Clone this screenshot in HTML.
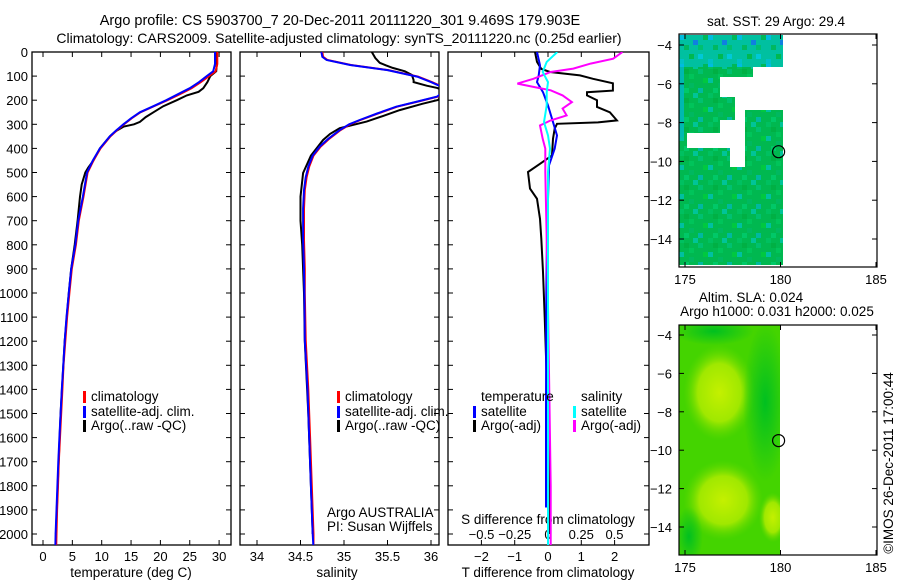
<!DOCTYPE html>
<html><head><meta charset="utf-8"><style>
html,body{margin:0;padding:0;background:#fff;}
svg{display:block;font-family:"Liberation Sans",Arial,sans-serif;}
text{fill:#000;}
</style></head><body>
<svg id="fig" width="900" height="580" viewBox="0 0 900 580" xmlns="http://www.w3.org/2000/svg">
<defs>
<clipPath id="c1"><rect x="32" y="52" width="199" height="493"/></clipPath>
<clipPath id="c2"><rect x="240" y="52" width="199" height="493"/></clipPath>
<clipPath id="c3"><rect x="448" y="52" width="201" height="493"/></clipPath>
<clipPath id="cm2"><rect x="679" y="325" width="101" height="230"/></clipPath>
<pattern id="sstTex" x="679" y="35" width="29" height="29" patternUnits="userSpaceOnUse">
<rect width="29" height="29" fill="#00b850"/>
<rect x="0" y="0" width="5" height="5" fill="#00c060"/><rect x="14" y="0" width="5" height="5" fill="#00c498"/>
<rect x="5" y="5" width="5" height="5" fill="#00b044"/><rect x="19" y="5" width="5" height="5" fill="#00c070"/>
<rect x="0" y="14" width="5" height="5" fill="#00c0a0"/><rect x="24" y="14" width="5" height="5" fill="#00c840"/>
<rect x="10" y="19" width="5" height="5" fill="#00b860"/><rect x="5" y="24" width="5" height="5" fill="#00c868"/>
<rect x="19" y="24" width="5" height="5" fill="#00b8a0"/><rect x="10" y="10" width="5" height="5" fill="#00c45a"/>
</pattern>
<pattern id="sstTop" x="679" y="35" width="29" height="29" patternUnits="userSpaceOnUse">
<rect width="29" height="29" fill="#00c0a0"/>
<rect x="0" y="0" width="5" height="5" fill="#00bce0"/><rect x="14" y="5" width="5" height="5" fill="#1080e0"/>
<rect x="5" y="10" width="5" height="5" fill="#00b860"/><rect x="19" y="19" width="5" height="5" fill="#00c8d8"/>
<rect x="24" y="0" width="5" height="5" fill="#00b858"/><rect x="0" y="24" width="5" height="5" fill="#00c0c8"/>
<rect x="10" y="19" width="5" height="5" fill="#00b850"/><rect x="19" y="10" width="5" height="5" fill="#00c070"/>
</pattern>
<radialGradient id="yg"><stop offset="0" stop-color="#c4f000"/><stop offset="0.6" stop-color="#a0e800"/><stop offset="1" stop-color="#60d800" stop-opacity="0"/></radialGradient>
<radialGradient id="dg"><stop offset="0" stop-color="#00c020"/><stop offset="1" stop-color="#00c020" stop-opacity="0"/></radialGradient>
</defs>
<g id="root"></g>
</svg>
<script>
// ---- data arrays (depth in m) ----
var depthTick = [0,100,200,300,400,500,600,700,800,900,1000,1100,1200,1300,1400,1500,1600,1700,1800,1900,2000];
var tempTick = [0,5,10,15,20,25,30];
var salTick = [34,34.5,35,35.5,36];
var salTickLabels = ["34","34.5","35","35.5","36"];
var tdTick = [-2,-1,0,1,2];
var sdTick = [-0.5,-0.25,0,0.25,0.5];
var sdTickLabels = ["\u22120.5","\u22120.25","0","0.25","0.5"];
var tdTickLabels = ["\u22122","\u22121","0","1","2"];

var depthT = [0,50,80,100,125,150,175,200,225,250,275,300,325,350,400,450,500,600,700,800,900,1000,1100,1200,1300,1400,1500,1600,1700,1800,1900,2000,2060];
var tempSat = [29.3,29.3,29.0,27.9,26.6,25.0,23.0,21.0,18.8,16.5,15.0,13.7,12.5,11.4,9.7,8.5,7.5,6.8,6.0,5.5,4.8,4.4,4.0,3.7,3.45,3.2,3.0,2.8,2.6,2.45,2.3,2.15,2.1];
var tempClim = [29.7,29.7,29.4,28.3,26.9,25.3,23.3,21.2,18.9,16.6,15.1,13.8,12.6,11.5,9.8,8.6,7.6,6.9,6.1,5.6,4.9,4.5,4.1,3.8,3.5,3.3,3.1,2.9,2.7,2.55,2.4,2.3,2.25];
var depthTA = [0,50,80,100,125,150,165,180,200,225,250,270,290,300,310,330,350,400,450,480,500,550,600,700,800,900,1000,1200,1500,1800,2000];
var tempArgo = [29.6,29.6,29.5,28.5,28.0,27.3,26.5,24.5,22.8,20.5,18.8,17.5,16.5,15.5,13.7,12.3,11.4,9.7,8.6,7.7,7.2,6.6,6.3,5.9,5.4,4.8,4.4,3.7,3.0,2.5,2.2];

var depthS = [0,20,33,54,75,102,125,144,165,185,205,227,255,282,300,324,360,393,430,476,520,573,650,780,900,1000,1195,1400,1600,1800,2000,2060];
var salSat = [34.74,34.75,34.8,35.07,35.5,35.84,36.0,36.12,36.14,36.07,35.85,35.6,35.38,35.18,35.06,34.95,34.82,34.72,34.64,34.59,34.56,34.54,34.53,34.53,34.54,34.545,34.55,34.58,34.6,34.62,34.64,34.65];
var salClim = [34.75,34.76,34.81,35.08,35.51,35.85,36.01,36.13,36.15,36.08,35.86,35.61,35.39,35.19,35.07,34.96,34.83,34.73,34.65,34.6,34.57,34.55,34.54,34.54,34.55,34.55,34.56,34.59,34.61,34.63,34.65,34.65];
var depthSA = [0,25,45,55,66,80,95,116,125,140,149,160,175,199,215,241,265,289,316,340,365,430,502,600,700,800,1000,1200,1500,2000];
var salArgo = [35.32,35.36,35.41,35.48,35.56,35.7,35.78,35.8,35.8,35.95,36.07,36.15,36.15,36.08,35.9,35.64,35.45,35.26,34.95,34.84,34.76,34.62,34.53,34.5,34.5,34.52,34.54,34.55,34.59,34.64];

var depthAT = [0,41,70,83,97,111,130,160,167,180,200,228,250,284,292,298,318,360,429,464,498,567,609,692,774,913,1100,1300,1600,2000];
var argoTdiff = [-0.39,-0.33,-0.2,0.06,0.96,1.35,1.95,1.95,1.17,1.17,1.47,1.47,1.86,2.07,1.5,0.27,0.2,0.15,0.12,-0.24,-0.6,-0.54,-0.33,-0.24,-0.2,-0.15,-0.1,-0.05,0.03,0.05];
var depthST = [0,55,97,125,167,222,291,346,401,470,750,1000,1500,1890];
var satTdiff = [-0.33,-0.24,-0.28,-0.33,-0.15,0,0.15,0.27,0.2,0.03,-0.03,-0.05,-0.06,-0.06];
var depthSS = [0,41,83,125,167,222,291,346,401,498,1000,2060];
var satSdiff = [0.07,-0.01,-0.04,0,-0.01,-0.01,-0.03,0,0.015,0,0,0];
var depthAS = [0,28,48,69,83,111,131,145,159,180,208,235,263,284,305,360,401,498,774,1051,1800,2060];
var argoSdiff = [0.56,0.49,0.32,0.19,0.02,-0.11,-0.23,-0.11,0.02,0.11,0.18,0.11,0.14,0.02,-0.06,-0.04,-0.02,-0.02,-0.01,0.0,0.02,0.02];

var lonTick = [175,180,185];
var latTick = [-4,-6,-8,-10,-12,-14];
var floatLon = [179.9];
var floatLat = [-9.5];

// ---- axes ----
var NS = "http://www.w3.org/2000/svg";
var root = document.getElementById("root");
function yD(d){ return 52 + d*0.241; }
function xT(t){ return 43 + t*5.87; }
function xS(s){ return 257 + (s-34)*87; }
function xTD(v){ return 548 + v*33.3; }
function xSD(v){ return 548 + v*133; }
function xLon(l){ return 685 + (l-175)*19.1; }
function yLat1(l){ return 45 + (-4-l)*19.4; }
function yLat2(l){ return 335 + (-4-l)*19.2; }

function mk(tag, attrs, parent){
  var e = document.createElementNS(NS, tag);
  for (var k in attrs) e.setAttribute(k, attrs[k]);
  (parent||root).appendChild(e);
  return e;
}
function txt(x,y,s,size,anchor,parent){
  var t = mk("text",{x:x,y:y,"font-size":size,"text-anchor":anchor||"start"},parent);
  t.textContent = s;
  return t;
}
function series(xs, ds, fx, color, clip, w){
  var p = "";
  for (var i=0;i<xs.length;i++){ p += (i?"L":"M") + fx(xs[i]).toFixed(1) + "," + yD(ds[i]).toFixed(1); }
  return mk("path",{d:p,fill:"none",stroke:color,"stroke-width":w||2,"clip-path":"url(#"+clip+")"});
}

// titles
var t1 = txt(340,25,"Argo profile: CS 5903700_7 20-Dec-2011 20111220_301 9.469S 179.903E",14.5,"middle");


var t2 = txt(339,43,"Climatology: CARS2009. Satellite-adjusted climatology: synTS_20111220.nc (0.25d earlier)",14,"middle");



// panel frames
var panels = [[32,199,"temperature-panel"],[240,199,"salinity-panel"],[448,201,"difference-panel"]];
panels.forEach(function(p){
  var r = mk("rect",{x:p[0],y:52,width:p[1],height:493,fill:"none",stroke:"#000","stroke-width":1.3});
  
  
  depthTick.forEach(function(d){
    mk("line",{x1:p[0],x2:p[0]+5,y1:yD(d),y2:yD(d),stroke:"#000"});
    mk("line",{x1:p[0]+p[1]-5,x2:p[0]+p[1],y1:yD(d),y2:yD(d),stroke:"#000"});
  });
});
depthTick.forEach(function(d){
  var t = txt(28,yD(d)+5,String(d),13,"end");
  
  
});
tempTick.forEach(function(v){
  mk("line",{x1:xT(v),x2:xT(v),y1:545,y2:540,stroke:"#000"});
  mk("line",{x1:xT(v),x2:xT(v),y1:52,y2:57,stroke:"#000"});
  var t = txt(xT(v),561,String(v),13,"middle");
  
  
});
salTick.forEach(function(v,i){
  mk("line",{x1:xS(v),x2:xS(v),y1:545,y2:540,stroke:"#000"});
  mk("line",{x1:xS(v),x2:xS(v),y1:52,y2:57,stroke:"#000"});
  var t = txt(xS(v),561,salTickLabels[i],13,"middle");
  
  
});
tdTick.forEach(function(v,i){
  mk("line",{x1:xTD(v),x2:xTD(v),y1:545,y2:540,stroke:"#000"});
  mk("line",{x1:xTD(v),x2:xTD(v),y1:52,y2:57,stroke:"#000"});
  var t = txt(xTD(v),561,tdTickLabels[i],13,"middle");
  
  
});
sdTick.forEach(function(v,i){
  var t = txt(xSD(v),539,sdTickLabels[i],13,"middle");
  
  
});
var xl1 = txt(131,577,"temperature (deg C)",13.5,"middle");


var xl2 = txt(337,577,"salinity",13.5,"middle");


var xl3 = txt(548,577,"T difference from climatology",13.5,"middle");


var xl4 = txt(548,524,"S difference from climatology",13.5,"middle");



// series
var s;
s = series(tempArgo, depthTA, xT, "#000", "c1");


s = series(tempClim, depthT, xT, "#f00", "c1");


s = series(tempSat, depthT, xT, "#00f", "c1");


s = series(salArgo, depthSA, xS, "#000", "c2");


s = series(salClim, depthS, xS, "#f00", "c2");


s = series(salSat, depthS, xS, "#00f", "c2");


s = series(argoTdiff, depthAT, xTD, "#000", "c3");


s = series(satTdiff, depthST, xTD, "#00f", "c3");


s = series(argoSdiff, depthAS, xSD, "#f0f", "c3");


s = series(satSdiff, depthSS, xSD, "#0ff", "c3");



// legends
function legItem(bx, tx, y, color, label, name){
  var g = mk("g",{});
  
  
  mk("rect",{x:bx,y:y-10,width:3,height:12,fill:color},g);
  txt(tx,y,label,13.5,"start",g);
}
legItem(83,91,401,"#f00","climatology","legend-climatology");
legItem(83,91,416,"#00f","satellite-adj. clim.","legend-satellite-adj");
legItem(83,91,430,"#000","Argo(..raw -QC)","legend-argo-raw");
legItem(337,345,401,"#f00","climatology","legend-sal-climatology");
legItem(337,345,416,"#00f","satellite-adj. clim.","legend-sal-satellite-adj");
legItem(337,345,430,"#000","Argo(..raw -QC)","legend-sal-argo-raw");
var lt = txt(481,401,"temperature",13.5);


var ls = txt(581,401,"salinity",13.5);


legItem(473,481,416,"#00f","satellite","legend-t-satellite");
legItem(473,481,430,"#000","Argo(-adj)","legend-t-argo");
legItem(573,581,416,"#0ff","satellite","legend-s-satellite");
legItem(573,581,430,"#f0f","Argo(-adj)","legend-s-argo");
var a1 = txt(327,517,"Argo AUSTRALIA",13.5);


var a2 = txt(327,531,"PI: Susan Wijffels",13.5);



// ---- map 1: SST ----
var m1 = mk("g",{});


mk("rect",{x:679,y:35,width:104,height:230,fill:"url(#sstTex)"},m1);
mk("rect",{x:679,y:35,width:104,height:32,fill:"url(#sstTop)"},m1);
mk("rect",{x:679,y:67,width:5,height:70,fill:"#00b8b0"},m1);
[[753,67,30,10],[720,77,63,20],[735,97,48,13],[735,110,10,10],[720,120,25,13],[687,133,58,15],[730,148,15,19]].forEach(function(r){
  mk("rect",{x:r[0],y:r[1],width:r[2],height:r[3],fill:"#fff"},m1);
});
var f1 = mk("circle",{cx:xLon(floatLon[0]),cy:yLat1(floatLat[0]),r:6,fill:"none",stroke:"#000","stroke-width":1.2});


mk("rect",{x:679,y:34,width:198,height:233,fill:"none",stroke:"#000","stroke-width":1.2});
var mt1 = txt(776,26,"sat. SST: 29 Argo: 29.4",13.5,"middle");



// ---- map 2: SLA ----
var m2 = mk("g",{"clip-path":"url(#cm2)"});


mk("rect",{x:679,y:325,width:101,height:230,fill:"#44d400"},m2);
mk("ellipse",{cx:xLon(176.8),cy:yLat2(-7),rx:36,ry:48,fill:"url(#yg)"},m2);
mk("ellipse",{cx:xLon(177),cy:yLat2(-12.6),rx:40,ry:40,fill:"url(#yg)"},m2);
mk("ellipse",{cx:xLon(179.6),cy:yLat2(-13.5),rx:14,ry:25,fill:"url(#yg)"},m2);
mk("ellipse",{cx:xLon(179.2),cy:yLat2(-7.5),rx:22,ry:80,fill:"url(#dg)"},m2);
mk("ellipse",{cx:xLon(175.2),cy:yLat2(-14.5),rx:14,ry:30,fill:"url(#dg)"},m2);
mk("ellipse",{cx:xLon(176.5),cy:yLat2(-3.8),rx:40,ry:14,fill:"url(#dg)"},m2);
var f2 = mk("circle",{cx:xLon(floatLon[0]),cy:yLat2(floatLat[0]),r:6,fill:"none",stroke:"#000","stroke-width":1.2});


mk("rect",{x:679,y:325,width:198,height:230,fill:"none",stroke:"#000","stroke-width":1.2});
var mt2 = txt(751,302,"Altim. SLA: 0.024",13.5,"middle");


var mt3 = txt(777,316,"Argo h1000: 0.031 h2000: 0.025",13.5,"middle");



// map ticks
[[yLat1,34,267],[yLat2,325,555]].forEach(function(m){
  lonTick.forEach(function(l){
    mk("line",{x1:xLon(l),x2:xLon(l),y1:m[2],y2:m[2]-5,stroke:"#000"});
    mk("line",{x1:xLon(l),x2:xLon(l),y1:m[1],y2:m[1]+5,stroke:"#000"});
    var t = txt(xLon(l),m[2]+17,String(l),13,"middle");
    
    
  });
  latTick.forEach(function(v){
    var y = m[0](v);
    mk("line",{x1:679,x2:684,y1:y,y2:y,stroke:"#000"});
    mk("line",{x1:872,x2:877,y1:y,y2:y,stroke:"#000"});
    var t = txt(672,y+5,"\u2212"+String(-v),13,"end");
    
    
  });
});

var stamp = txt(0,0,"\u00a9IMOS 26-Dec-2011 17:00:44",13.5,"middle");
stamp.setAttribute("transform","translate(893,463) rotate(-90)");


</script>
</body></html>
